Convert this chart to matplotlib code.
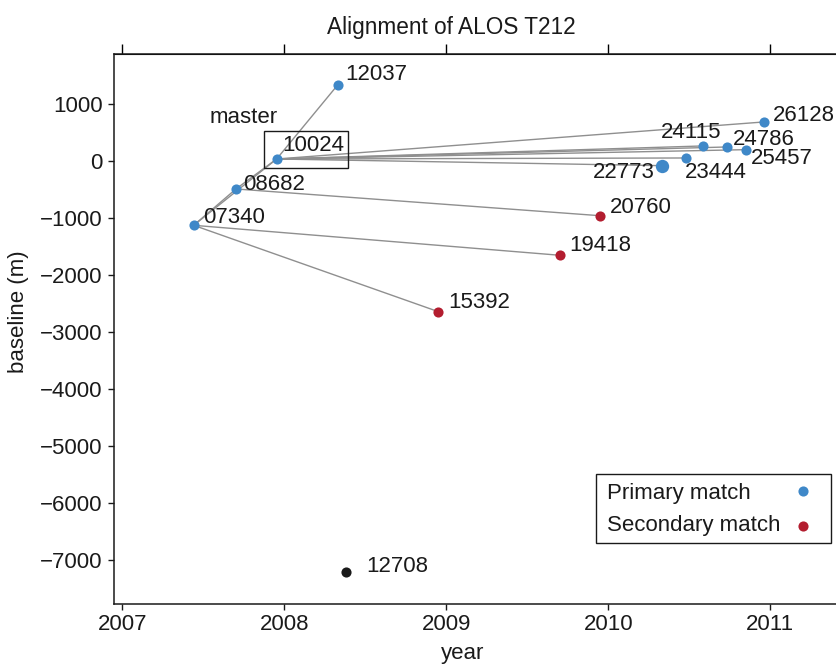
import matplotlib
matplotlib.use('Agg')
import matplotlib.pyplot as plt
from matplotlib.lines import Line2D
from matplotlib.patches import Rectangle
from matplotlib.transforms import IdentityTransform

plt.rcParams['font.family'] = ['Liberation Sans', 'DejaVu Sans']

# ALOS T212 acquisitions (orbit number, decimal year, perpendicular baseline in m)
orbits = ['07340', '08682', '10024', '12037', '12708', '15392', '19418',
          '20760', '22773', '23444', '24115', '24786', '25457', '26128']
years = [2007.441, 2007.702, 2007.953, 2008.330, 2008.381, 2008.951, 2009.700,
         2009.947, 2010.333, 2010.480, 2010.583, 2010.731, 2010.852, 2010.959]
baselines = [-1124, -486, 40, 1340, -7205, -2640, -1650,
             -955, -77, 58, 269, 251, 204, 690]
match_type = ['primary', 'primary', 'primary', 'primary', 'none', 'secondary',
              'secondary', 'secondary', 'primary', 'primary', 'primary',
              'primary', 'primary', 'primary']
master = '10024'

# which scene each one was aligned against
links = [('10024', '12037'), ('10024', '08682'), ('10024', '07340'),
         ('08682', '07340'), ('08682', '20760'), ('07340', '19418'),
         ('07340', '15392'), ('10024', '22773'), ('10024', '23444'),
         ('10024', '24115'), ('10024', '24786'), ('10024', '25457'),
         ('10024', '26128')]

colors = {'primary': '#3f88c8', 'secondary': '#b31d2f', 'none': '#1a1a1a'}
dot_size = {'22773': 9.6}

# label placement: (dx, dy) in pixels from the dot, horizontal alignment
label_pos = {
    '07340': (9, 2.6, 'left'), '08682': (7, -1.4, 'left'),
    '10024': (6, 8, 'left'), '12037': (8, 4.8, 'left'),
    '12708': (20, -0.3, 'left'), '15392': (10, 3.3, 'left'),
    '19418': (10, 4.3, 'left'), '20760': (10, 3, 'left'),
    '22773': (-7, -12.7, 'right'), '23444': (-1, -19.7, 'left'),
    '24115': (19, 7.6, 'right'), '24786': (6, 1.6, 'left'),
    '25457': (5, -14, 'left'), '26128': (9, 1, 'left'),
}

W, H = 836, 665
fig = plt.figure(figsize=(W / 100, H / 100), dpi=100)
x0, x1 = 2006.951, 2011.6
ax = fig.add_axes([114.3 / W, 61 / H, (122.3 + (x1 - 2007) * 162 - 114.3) / W,
                   549.7 / H])
ax.set_xlim(x0, x1)
ax.set_ylim(-7772, 1878)

pos = {o: (x, y) for o, x, y in zip(orbits, years, baselines)}

for a, b in links:
    ax.plot([pos[a][0], pos[b][0]], [pos[a][1], pos[b][1]],
            color='#8f8f8f', lw=1, zorder=1)

for o, x, y, m in zip(orbits, years, baselines, match_type):
    ax.plot(x, y, 'o', color=colors[m], ms=dot_size.get(o, 7.3),
            mec='none', zorder=3)
    dx, dy, ha = label_pos[o]
    ax.annotate(o, (x, y), xytext=(dx, dy), textcoords='offset pixels',
                ha=ha, va='baseline', fontsize=16, color='#1a1a1a', zorder=4)

mx, my = pos[master]
ax.annotate('master', (mx, my), xytext=(-33, 36), textcoords='offset pixels',
            ha='center', va='baseline', fontsize=16, color='#1a1a1a')

ax.set_xticks([2007, 2008, 2009, 2010, 2011])
ax.set_yticks(range(-7000, 1001, 1000))
ax.set_yticklabels([str(v).replace('-', '\u2212') for v in range(-7000, 1001, 1000)])
ax.tick_params(direction='out', length=4.5, width=1, labelsize=16,
               colors='#1a1a1a', pad=3)
ax.tick_params(axis='y', length=4.5, pad=4)
for s in ax.spines.values():
    s.set_linewidth(1.1)
    s.set_color('#1a1a1a')

top = ax.secondary_xaxis('top')
top.set_xticks([2007, 2008, 2009, 2010, 2011])
top.tick_params(direction='out', length=7.5, width=1, labeltop=False)

# box around the master scene, drawn in screen pixels
px, py = ax.transData.transform((mx, my))
fig.add_artist(Rectangle((px - 12.5, py - 9), 84, 37, transform=IdentityTransform(),
                         fill=False, lw=1, ec='#1a1a1a', zorder=5))

# legend: text on the left, dot on the right
fig.add_artist(Rectangle((596 / W, 1 - 542.7 / H), 234.7 / W, 68.7 / H,
                         transform=fig.transFigure, fill=False, lw=1,
                         ec='#1a1a1a', zorder=6))
for name, key, text_y, dot_y in [('Primary match', 'primary', 499.3, 490.7),
                                 ('Secondary match', 'secondary', 531, 525.7)]:
    fig.text(607 / W, 1 - text_y / H, name, ha='left', va='baseline',
             fontsize=16, color='#1a1a1a', zorder=6)
    fig.add_artist(Line2D([802.7 / W], [1 - dot_y / H], ls='none', marker='o',
                          color=colors[key], ms=7.3, mec='none',
                          transform=fig.transFigure, zorder=6))

fig.text(451 / W, 1 - 34 / H, 'Alignment of ALOS T212', ha='center',
         va='baseline', fontsize=16.3, color='#1a1a1a')
fig.text(19 / W, 1 - 312 / H, 'baseline (m)', rotation=90, ha='center',
         va='center', fontsize=16, color='#1a1a1a')
fig.text(463 / W, 1 - 653 / H, 'year', ha='center', va='center',
         fontsize=16, color='#1a1a1a')

fig.savefig('out.png', dpi=100)
